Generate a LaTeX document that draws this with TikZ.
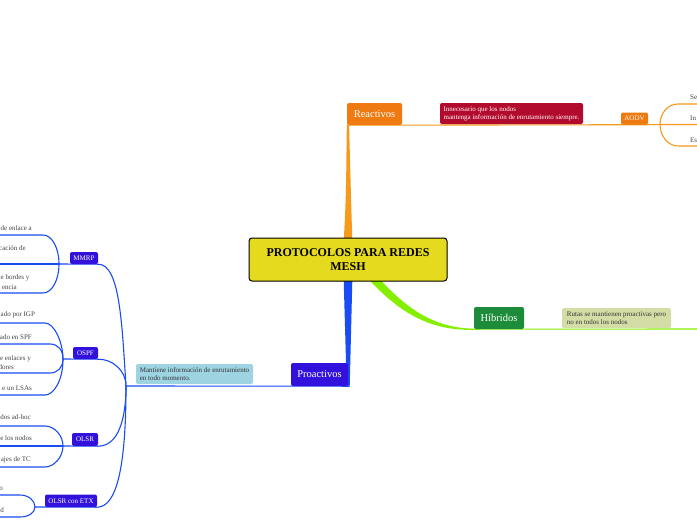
\documentclass[tikz,border=0pt]{standalone}
\usepackage{fontspec}
\setmainfont{Liberation Serif}
\usetikzlibrary{calc}
\definecolor{cyellow}{HTML}{E5DA1D}
\definecolor{corange}{HTML}{EE7A11}
\definecolor{corline}{HTML}{F59A1B}
\definecolor{cred}{HTML}{B20A2C}
\definecolor{cgreen}{HTML}{1D8C3A}
\definecolor{clime}{HTML}{84F000}
\definecolor{colive}{HTML}{D4DDA6}
\definecolor{cblue}{HTML}{1A4CF5}
\definecolor{cpurple}{HTML}{3311DD}
\definecolor{clblue}{HTML}{9ED4E2}
\definecolor{txtgrey}{HTML}{444444}
\definecolor{txtdark}{HTML}{333333}
\tikzset{
  tbox/.style={rectangle, rounded corners=2pt, inner sep=0pt, text=white, font=\fontsize{7}{8}\selectfont},
  bigbox/.style={rectangle, rounded corners=2pt, inner sep=0pt, text=white, font=\fontsize{10.5}{12}\selectfont},
  note/.style={rectangle, rounded corners=2pt, inner sep=0pt, align=left, font=\fontsize{7}{8}\selectfont},
  ltext/.style={font=\fontsize{7}{8}\selectfont, inner sep=0pt, text=txtgrey, anchor=east},
  lwtext/.style={font=\fontsize{7}{8}\selectfont, inner sep=0pt, text=txtgrey, anchor=west},
  rtext/.style={font=\fontsize{7}{8}\selectfont, inner sep=0pt, text=txtgrey, anchor=west},
  conn/.style={line width=1.1pt},
}
\begin{document}
\begin{tikzpicture}[x=1pt,y=-1pt]
\useasboundingbox[fill=white] (0,0) rectangle (697,520);

\path
  (348,259.5) coordinate (cc)
  (374.5,114) coordinate (rc)
  (499,318) coordinate (hc)
  (319.5,374.5) coordinate (pc);

% named junctions and free ends
\coordinate (J0) at (126,386);
\coordinate (mj) at (59,264);
\coordinate (oj) at (63,359);
\coordinate (lj) at (63,446);
\coordinate (ej) at (35,507);
\coordinate (aj) at (660,124.5);
\coordinate (a1) at (697,104);
\coordinate (a2) at (697,124.5);
\coordinate (a3) at (697,146);
\coordinate (h2) at (697,329);
\coordinate (m1) at (0,235);
\coordinate (m2) at (0,264);
\coordinate (m3) at (0,293);
\coordinate (o1) at (0,323);
\coordinate (o2) at (0,344);
\coordinate (o3) at (0,373);
\coordinate (o4) at (0,395);
\coordinate (l1) at (0,426);
\coordinate (l2) at (0,446);
\coordinate (l3) at (0,467);
\coordinate (e1) at (0,495);
\coordinate (e2) at (0,517);

% ---- phantom nodes for anchors ----
\node[rectangle, rounded corners=3pt, minimum width=198pt, minimum height=43pt, inner sep=0pt] (center) at (cc) {};
\node[bigbox, minimum width=55pt, minimum height=22pt] (react) at (rc) {};
\node[bigbox, minimum width=50pt, minimum height=22pt] (hib) at (hc) {};
\node[bigbox, minimum width=57pt, minimum height=23pt] (pro) at (pc) {};
\node[tbox, minimum width=28pt, minimum height=12pt] (mmrp) at (84,258) {};
\node[tbox, minimum width=25pt, minimum height=12pt] (ospf) at (85.5,353) {};
\node[tbox, minimum width=26pt, minimum height=13pt] (olsr) at (85,439.5) {};
\node[tbox, minimum width=52pt, minimum height=12.5pt] (etx) at (71,500.75) {};
\node[tbox, minimum width=27pt, minimum height=12pt] (aodv) at (634.5,118.5) {};

% ---- tapered main connectors ----
\fill[corline] ($(center.north)+(-4.5,8)$) .. controls ($(center.north)+(-2,-40)$) .. ($(react.south west)+(0,0)$)
  -- ($(react.south west)+(2.3,0)$) .. controls ($(center.north)+(3,-40)$) .. ($(center.north)+(4.5,8)$) -- cycle;
\fill[cblue] ($(center.south)+(-4.5,-8)$) -- ($(center.south)+(4.5,-8)$) -- ($(pro.south east)+(1.5,0.6)$) -- ($(pro.south east)+(-1.5,0.6)$) -- cycle;
\fill[clime] ($(center.south)+(28,-6)$) .. controls (405,307) and (432,328) .. ($(hib.south west)+(0,-0.6)$)
  -- ($(hib.south west)+(0,0.6)$) .. controls (428,331) and (397,311) .. ($(center.south)+(17,-6)$) -- cycle;

% ---- horizontal lines ----
\draw[conn, corline] (react.south west) -- (aodv.south east) -- (aj) -- (a2);
\draw[conn, corline] (aj) .. controls (660,113) and (668,104) .. (678,104) -- (a1);
\draw[conn, corline] (aj) .. controls (660,136) and (668,146) .. (678,146) -- (a3);
\draw[conn, clime] (hib.south west) -- (h2);
\draw[conn, cblue] (pro.south east) -- (J0);

% spine to groups
\draw[conn, cblue] (J0) .. controls (122,325) and (120,264) .. (mmrp.south east);
\draw[conn, cblue] (J0) .. controls (126,370) and (112,359) .. (ospf.south east);
\draw[conn, cblue] (J0) .. controls (126,420) and (118,446) .. (olsr.south east);
\draw[conn, cblue] (J0) .. controls (126,470) and (116,507) .. (etx.south east);

% group branches
\draw[conn, cblue] (mj) -- (mmrp.south east);
\draw[conn, cblue] (mj) .. controls (59,248) and (52,235) .. (43,235) -- (m1);
\draw[conn, cblue] (mj) -- (m2);
\draw[conn, cblue] (mj) .. controls (59,280) and (52,293) .. (43,293) -- (m3);

\draw[conn, cblue] (oj) -- (ospf.south east);
\draw[conn, cblue] (oj) .. controls (63,342) and (54,323) .. (45,323) -- (o1);
\draw[conn, cblue] (oj) .. controls (63,350) and (58,344) .. (50,344) -- (o2);
\draw[conn, cblue] (oj) .. controls (63,367) and (58,373) .. (50,373) -- (o3);
\draw[conn, cblue] (oj) .. controls (63,380) and (54,395) .. (45,395) -- (o4);

\draw[conn, cblue] (lj) -- (olsr.south east);
\draw[conn, cblue] (lj) .. controls (63,435) and (54,426) .. (45,426) -- (l1);
\draw[conn, cblue] (lj) -- (l2);
\draw[conn, cblue] (lj) .. controls (63,457) and (54,467) .. (45,467) -- (l3);

\draw[conn, cblue] (ej) -- (etx.south east);
\draw[conn, cblue] (ej) .. controls (35,500) and (28,495) .. (20,495) -- (e1);
\draw[conn, cblue] (ej) .. controls (35,513) and (28,517) .. (20,517) -- (e2);

% ---- visible nodes ----
\node[rectangle, rounded corners=3pt, minimum width=198pt, minimum height=43pt, inner sep=0pt,
      fill=cyellow, draw=black, line width=1pt, align=center, font=\fontsize{12}{13.5}\selectfont\bfseries]
      at (cc) {PROTOCOLOS PARA REDES\\MESH};
\node[bigbox, fill=corange, minimum width=55pt, minimum height=22pt] at (rc) {Reactivos};
\node[bigbox, fill=cgreen, minimum width=50pt, minimum height=22pt] at (hc) {Híbridos};
\node[bigbox, fill=cpurple, minimum width=57pt, minimum height=23pt] at (pc) {Proactivos};

\node[note, fill=cred, text=white, minimum width=143pt, minimum height=21pt] (rnote) at (511.5,113.5)
  {Innecesario que los nodos\\mantenga información de enrutamiento siempre.};
\node[note, fill=colive, text=txtdark, minimum width=109pt, minimum height=20pt] (hnote) at (616.5,318)
  {Rutas se mantienen proactivas pero\\no en todos los nodos};
\node[note, fill=clblue, text=txtdark, minimum width=117pt, minimum height=20pt] (pnote) at (194.5,374)
  {Mantiene información de enrutamiento\\en todo momento.};

\node[tbox, fill=cpurple, minimum width=28pt, minimum height=12pt] at (84,258) {MMRP};
\node[tbox, fill=cpurple, minimum width=25pt, minimum height=12pt] at (85.5,353) {OSPF};
\node[tbox, fill=cpurple, minimum width=26pt, minimum height=13pt] at (85,439.5) {OLSR};
\node[tbox, fill=cpurple, minimum width=52pt, minimum height=12.5pt] at (71,500.75) {OLSR con ETX};
\node[tbox, fill=corange, minimum width=27pt, minimum height=12pt] at (634.5,118.5) {AODV};

% ---- texts at the edges ----
\node[lwtext] (tm1) at (0.5,228) {de enlace a};
\node[ltext] (tm2) at (26,248) {cación de};
\node[lwtext] (tm3) at (0.5,278) {e bordes y};
\node[ltext] (tm4) at (17,287) {encia};
\node[lwtext] (to1) at (0.5,315) {ado por IGP};
\node[ltext] (to2) at (32,337) {ado en SPF};
\node[ltext] (to3) at (31,359) {e enlaces y};
\node[ltext] (to4) at (14,367) {dores};
\node[ltext] (to5) at (32,388) {e un LSAs};
\node[ltext] (tl1) at (31,417) {dos ad-hoc};
\node[ltext] (tl2) at (32,438) {e los nodos};
\node[ltext] (tl3) at (31,460) {ajes de TC};
\node[ltext] (te1) at (3,489) {o};
\node[ltext] (te2) at (4,510) {d};
\node[rtext] (ta1) at (690,97) {Se};
\node[rtext] (ta2) at (690,118) {In};
\node[rtext] (ta3) at (690,140) {Es};
\end{tikzpicture}
\end{document}
